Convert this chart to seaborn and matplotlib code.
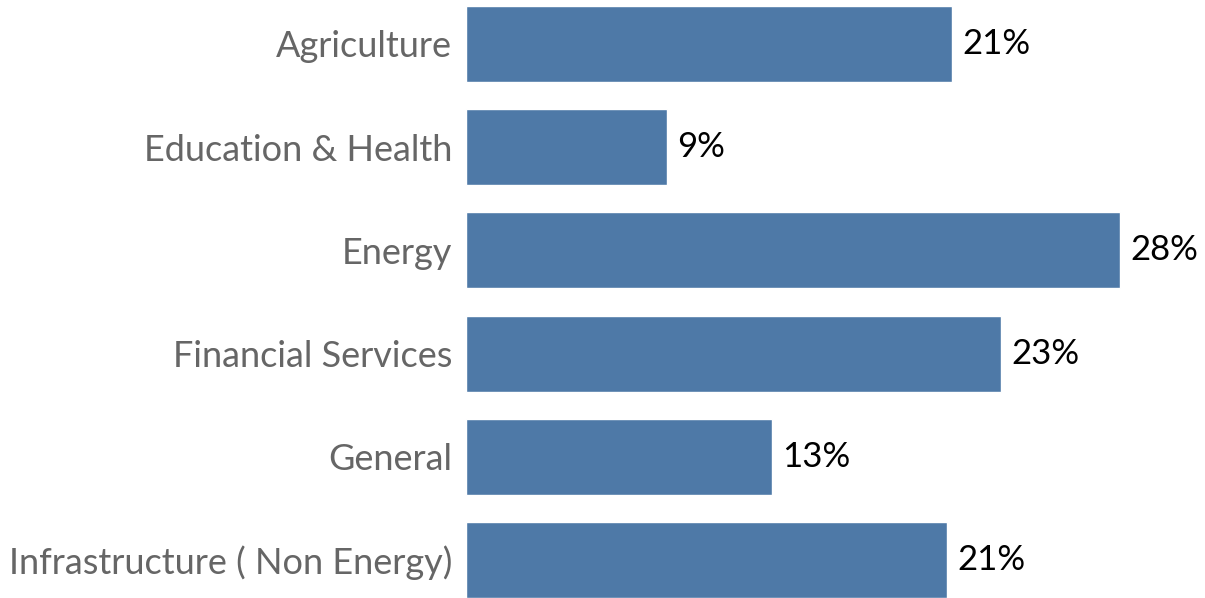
import matplotlib
matplotlib.use("Agg")
import matplotlib.pyplot as plt
import seaborn as sns
import pandas as pd

sectors = [
    "Agriculture",
    "Education & Health",
    "Energy",
    "Financial Services",
    "General",
    "Infrastructure ( Non Energy)",
]
shares = [20.8, 8.6, 28.0, 22.9, 13.1, 20.6]

df = pd.DataFrame({"sector": sectors, "share": shares})

sns.set_theme(style="white")
plt.rcParams["font.family"] = ["Lato", "DejaVu Sans"]

fig = plt.figure(figsize=(12.05, 5.98), dpi=100)
ax = fig.add_axes([466 / 1205, 0.0, (1166.8 - 466) / 1205, 1.0])

sns.barplot(data=df, x="share", y="sector", orient="h", color="#4E79A7",
            saturation=1, width=0.736, ax=ax)

ax.set_xlim(0, 30)
ax.set_ylim(5.368, -0.426)
ax.set_xlabel("")
ax.set_ylabel("")
ax.set_xticks([])
ax.tick_params(axis="y", length=0, pad=10, labelsize=26, labelcolor="#666666")
for s in ax.spines.values():
    s.set_visible(False)

for i, v in enumerate(shares):
    ax.text(v + 0.45, i, f"{v:.0f}%", va="center", ha="left",
            fontsize=25, color="black", clip_on=False)

fig.savefig("out.png", dpi=100)
